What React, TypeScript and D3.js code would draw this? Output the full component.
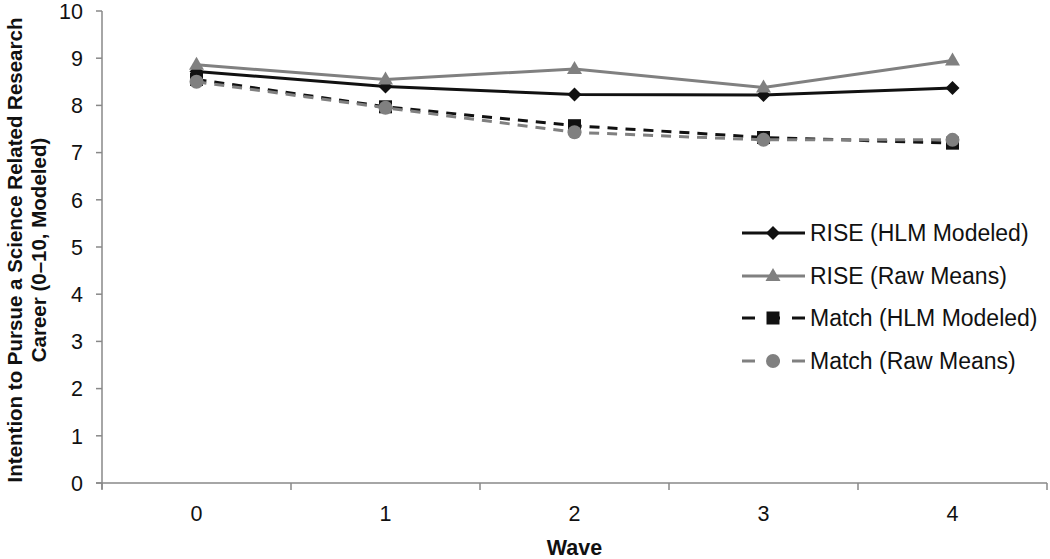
import React from "react";
import * as d3 from "d3";

const waves = ["0", "1", "2", "3", "4"];
const riseHlm = [8.72, 8.4, 8.23, 8.22, 8.37];
const riseRaw = [8.86, 8.55, 8.77, 8.38, 8.95];
const matchHlm = [8.55, 7.97, 7.57, 7.32, 7.2];
const matchRaw = [8.5, 7.95, 7.43, 7.27, 7.27];
const yTicks = [0, 1, 2, 3, 4, 5, 6, 7, 8, 9, 10];

const seriesNames = ["RISE (HLM Modeled)", "RISE (Raw Means)", "Match (HLM Modeled)", "Match (Raw Means)"];

type S = { name: string; values: number[]; color: string; dash: string; marker: string };

const series: S[] = [
  { name: seriesNames[0], values: riseHlm, color: "#111111", dash: "", marker: "diamond" },
  { name: seriesNames[1], values: riseRaw, color: "#808080", dash: "", marker: "triangle" },
  { name: seriesNames[2], values: matchHlm, color: "#111111", dash: "10,8", marker: "square" },
  { name: seriesNames[3], values: matchRaw, color: "#808080", dash: "10,8", marker: "circle" },
];

const W = 1050, H = 559;
const left = 102, right = 1047, top = 11, bottom = 483;

function Marker({ type, x, y, color }: { type: string; x: number; y: number; color: string }) {
  if (type === "diamond") {
    const r = 7;
    return <path d={`M${x},${y - r}L${x + r},${y}L${x},${y + r}L${x - r},${y}Z`} fill={color} />;
  }
  if (type === "triangle") {
    return <path d={`M${x},${y - 8}L${x + 7.5},${y + 5}L${x - 7.5},${y + 5}Z`} fill={color} />;
  }
  if (type === "square") {
    return <rect x={x - 6.5} y={y - 6.5} width={13} height={13} fill={color} />;
  }
  return <circle cx={x} cy={y} r={7} fill={color} />;
}

export default function App() {
  const x = d3.scaleBand<string>().domain(waves).range([left, right]);
  const y = d3.scaleLinear().domain([0, 10]).range([bottom, top]);
  const cx = (w: string) => (x(w) as number) + x.bandwidth() / 2;
  const line = d3
    .line<number>()
    .x((_, i) => cx(waves[i]))
    .y((d) => y(d));
  const font = "'Liberation Sans', Arial, Helvetica, sans-serif";
  const legendY = [233, 276, 318, 361];
  const boundaries = waves.map((w) => x(w) as number).concat([right]);

  return (
    <svg width={W} height={H} style={{ position: "absolute", left: 0, top: 0, background: "#fff" }} fontFamily={font}>
      {/* y axis */}
      <line x1={left} x2={left} y1={top} y2={bottom + 6} stroke="#888" strokeWidth={1.5} />
      {yTicks.map((t) => (
        <g key={t}>
          <line x1={left - 6} x2={left} y1={y(t)} y2={y(t)} stroke="#888" strokeWidth={1.5} />
          <text x={left - 19} y={y(t)} dy="0.36em" textAnchor="end" fontSize={21.5} fill="#111">
            {t}
          </text>
        </g>
      ))}
      {/* x axis */}
      <line x1={left - 6} x2={right} y1={bottom} y2={bottom} stroke="#888" strokeWidth={1.5} />
      {boundaries.map((b, i) => (
        <line key={i} x1={b} x2={b} y1={bottom} y2={bottom + 7} stroke="#888" strokeWidth={1.5} />
      ))}
      {waves.map((w) => (
        <text key={w} x={cx(w)} y={513} dy="0.36em" textAnchor="middle" fontSize={21.5} fill="#111">
          {w}
        </text>
      ))}
      <text x={(left + right) / 2} y={555} textAnchor="middle" fontSize={21.5} fontWeight="bold" fill="#111">
        Wave
      </text>
      <text transform="translate(22,250) rotate(-90)" textAnchor="middle" fontSize={20.5} fontWeight="bold" fill="#111">
        Intention to Pursue a Science Related Research
      </text>
      <text transform="translate(46,250) rotate(-90)" textAnchor="middle" fontSize={20.5} fontWeight="bold" fill="#111">
        Career (0–10, Modeled)
      </text>
      {/* lines */}
      {series.map((s) => (
        <g key={s.name}>
          <path d={line(s.values) || ""} fill="none" stroke={s.color} strokeWidth={3} strokeDasharray={s.dash} />
          {s.values.map((v, i) => (
            <Marker key={i} type={s.marker} x={cx(waves[i])} y={y(v)} color={s.color} />
          ))}
        </g>
      ))}
      {/* legend */}
      {series.map((s, i) => (
        <g key={s.name}>
          <line x1={742} x2={805} y1={legendY[i]} y2={legendY[i]} stroke={s.color} strokeWidth={3} strokeDasharray={s.dash ? "13,12,13,100" : ""} />
          <line x1={792} x2={805} y1={legendY[i]} y2={legendY[i]} stroke={s.color} strokeWidth={s.dash ? 3 : 0} />
          <Marker type={s.marker} x={773} y={legendY[i]} color={s.color} />
          <text x={810} y={legendY[i]} dy="0.36em" fontSize={23} fill="#111">
            {s.name}
          </text>
        </g>
      ))}
    </svg>
  );
}
